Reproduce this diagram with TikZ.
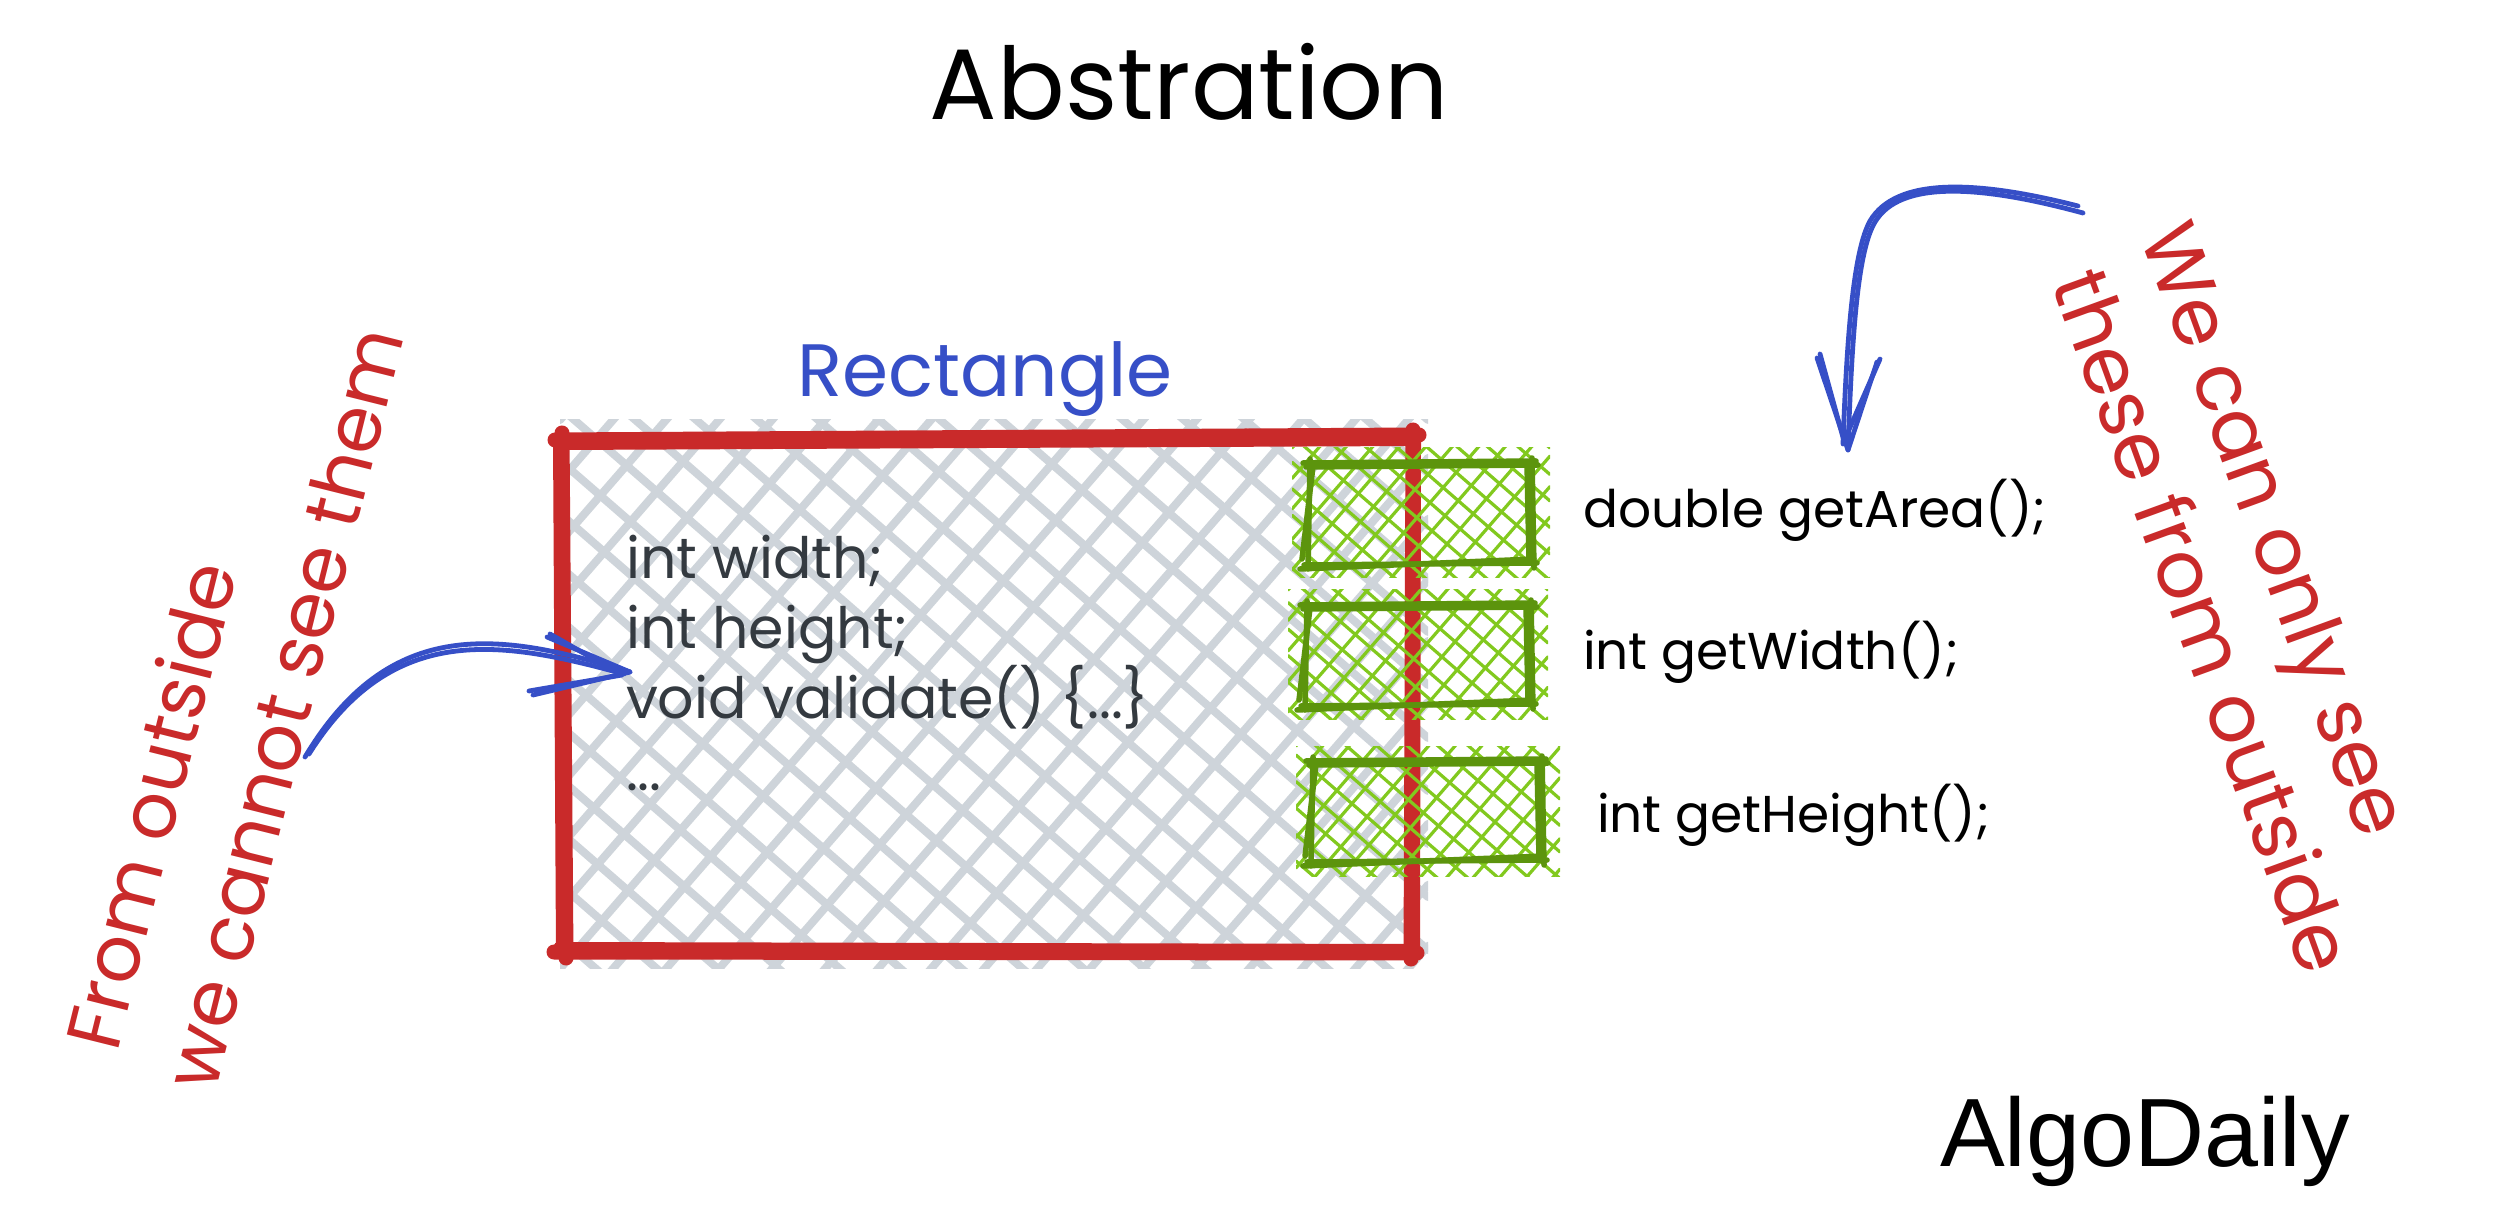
\documentclass[tikz,border=0pt]{standalone}
\usepackage{fontspec}
\setmainfont{Poppins}
\newfontfamily\algofont{Liberation Sans}
\usepackage{graphicx}
\definecolor{redc}{HTML}{C92A2A}
\definecolor{bluec}{HTML}{364FC7}
\definecolor{grayh}{HTML}{CED4DA}
\definecolor{greend}{HTML}{5C940D}
\definecolor{greenl}{HTML}{82C91E}
\definecolor{codec}{HTML}{343A40}
\newlength\fitlen
\newcommand\fitscale[3]{\settowidth\fitlen{#2}\pgfmathsetmacro\myfac{#1/\fitlen}\scalebox{\myfac}{#3}}
\newcommand\crosshatch[6]{%
 \begin{scope}
 \clip (#1,#2) rectangle (#3,#4);
 \pgfmathsetmacro\hsA{#5/cos(41)}%
 \pgfmathsetmacro\hAmin{#2-0.8693*#3-\hsA}%
 \pgfmathsetmacro\hAnext{\hAmin+\hsA}%
 \pgfmathsetmacro\hAmax{#4-0.8693*#1+\hsA}%
 \foreach \hb in {\hAmin,\hAnext,...,\hAmax}{\draw[#6] (#1,{0.8693*#1+\hb}) -- (#3,{0.8693*#3+\hb});}%
 \pgfmathsetmacro\hsB{#5/cos(49)}%
 \pgfmathsetmacro\hBmin{#2+1.1504*#1-\hsB}%
 \pgfmathsetmacro\hBnext{\hBmin+\hsB}%
 \pgfmathsetmacro\hBmax{#4+1.1504*#3+\hsB}%
 \foreach \hb in {\hBmin,\hBnext,...,\hBmax}{\draw[#6] (#1,{\hb-1.1504*#1}) -- (#3,{\hb-1.1504*#3});}%
 \end{scope}}
\newcommand\roughbox[5]{%
 \draw[#5] ({#1-5},{#2+1}) -- ({#3+4},{#2-1});
 \draw[#5] ({#3},{#2-4}) -- ({#3+2},{#4+5});
 \draw[#5] ({#3+5},{#4}) -- ({#1-4},{#4+2});
 \draw[#5] ({#1},{#4+6}) -- ({#1+2},{#2-3});
 \draw[#5] ({#1-2},{#2+5}) -- ({#3+6},{#2+3});
 \draw[#5] ({#3-5},{#2+2}) -- ({#3-3},{#4-2});
 \draw[#5] ({#3+2},{#4-4}) -- ({#1-8},{#4+6});
 \draw[#5] ({#1-6},{#4-4}) -- ({#1+5},{#2+4});}
\newcommand\codeline[1]{\fitscale{5.23cm}{void validate() \{...\}}{#1}}
\newcommand\methline[1]{\fitscale{4.63cm}{double getArea();}{#1}}
\newcommand\lredline[1]{\fitscale{7.8cm}{we cannot see them}{#1}}
\newcommand\rredline[1]{\fitscale{7.4cm}{these from outside}{#1}}
\tikzset{
 hatchgray/.style={draw=grayh, line width=0.08cm},
 hatchgreen/.style={draw=greenl, line width=0.032cm},
 greenedge/.style={draw=greend, line width=0.055cm},
 redline/.style={draw=redc, line width=0.15cm},
 bluearrow/.style={draw=bluec, line width=0.048cm},
 txt/.style={inner sep=0pt, outer sep=0pt},
 codetxt/.style={txt, text=codec, anchor=base west},
 redtxt/.style={txt, text=redc},
}
\begin{document}
\begin{tikzpicture}[x=0.01cm,y=-0.01cm,line cap=round,line join=round]
\useasboundingbox (0,0) rectangle (2500,1219);
\fill[white] (0,0) rectangle (2500,1219);
% gray cross-hatch of the class body
\crosshatch{560}{420}{1428}{968}{40}{hatchgray}
% red rectangle
\draw[redline] (555,440) -- (1419,435);
\draw[redline] (1413,430) -- (1411,959);
\draw[redline] (554,952) -- (1417,953);
\draw[redline] (562,433) -- (566,958);
\draw[redline, line width=0.08cm] (560,446) -- (1414,442);
\draw[redline, line width=0.08cm] (1417,437) -- (1416,953);
\draw[redline, line width=0.08cm] (558,946) -- (1412,948);
\draw[redline, line width=0.08cm] (557,438) -- (560,953);
% green method boxes
\crosshatch{1292}{448}{1550}{578}{20}{hatchgreen}
\roughbox{1308}{462}{1532}{563}{greenedge}
\crosshatch{1288}{590}{1548}{720}{20}{hatchgreen}
\roughbox{1305}{604}{1531}{704}{greenedge}
\crosshatch{1296}{746}{1560}{876}{20}{hatchgreen}
\roughbox{1311}{760}{1542}{860}{greenedge}
\coordinate (box1) at (1420,512);
\coordinate (box2) at (1418,654);
\coordinate (box3) at (1426,810);
% texts
\node[txt, anchor=base] (title) at (1189,120) {\fitscale{5.18cm}{Abstration}{Abstration}};
\node[txt, anchor=base, text=bluec] (rectlabel) at (985,397) {\fitscale{3.75cm}{Rectangle}{Rectangle}};
\node[codetxt] (c1) at (626,578) {\codeline{int width;}};
\node[codetxt] (c2) at (626,648) {\codeline{int height;}};
\node[codetxt] (c3) at (626,718) {\codeline{void validate() \{...\}}};
\node[codetxt] (c4) at (626,790) {\codeline{...}};
\node[txt, anchor=base west] (m1) at (1583,528) {\methline{double getArea();}};
\node[txt, anchor=base west] (m2) at (1583,670) {\methline{int getWidth();}};
\node[txt, anchor=base west] (m3) at (1597,832) {\methline{int getHeight();}};
\node[redtxt, rotate=76] (l2) at (283,708) {\lredline{we cannot see them}};
\node[redtxt, rotate=76] (l1) at (150,805) {\lredline{From outside}};
\node[redtxt, rotate=-70] (r1) at (2268,532) {\rredline{We can only see}};
\node[redtxt, rotate=-70] (r2) at (2205,620) {\rredline{these from outside}};
\node[txt, anchor=base west, font=\algofont\fontsize{27.6pt}{30pt}\selectfont] (logo) at (1940,1166) {AlgoDaily};
% left arrow: into the hidden members
\coordinate (la-s) at (305,757);
\coordinate (la-t) at (630,672);
\coordinate (la-b1) at (547,637);
\coordinate (la-b2) at (533,695);
\draw[bluearrow] (la-s) .. controls (390,615) and (500,632) .. (la-t);
\draw[bluearrow] ([shift={(4,-3)}]la-s) .. controls (392,622) and (500,640) .. ([shift={(-6,2)}]la-t);
\draw[bluearrow] (la-b1) -- (la-t) -- (la-b2);
\draw[bluearrow] ([shift={(3,-3)}]la-b1) -- ([shift={(-8,3)}]la-t) -- ([shift={(-4,-4)}]la-b2);
% right arrow: down to the public methods
\coordinate (ra-s) at (2083,213);
\coordinate (ra-t) at (1848,450);
\coordinate (ra-b1) at (1817,358);
\coordinate (ra-b2) at (1877,362);
\draw[bluearrow] (ra-s) .. controls (1980,185) and (1900,180) .. (1875,222) .. controls (1858,250) and (1852,330) .. (ra-t);
\draw[bluearrow] ([shift={(-5,-7)}]ra-s) .. controls (1976,180) and (1896,177) .. (1870,221) .. controls (1854,250) and (1847,330) .. ([shift={(-5,-6)}]ra-t);
\draw[bluearrow] (ra-b1) -- (ra-t) -- (ra-b2);
\draw[bluearrow] ([shift={(3,-4)}]ra-b1) -- ([shift={(-4,-9)}]ra-t) -- ([shift={(3,-3)}]ra-b2);
\end{tikzpicture}
\end{document}
